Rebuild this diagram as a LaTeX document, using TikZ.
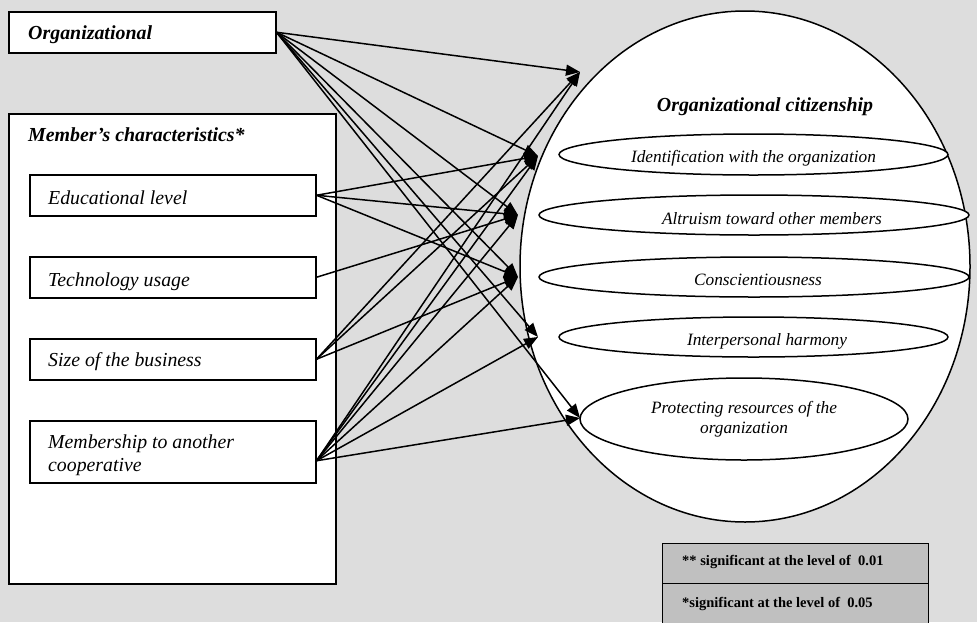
\documentclass[tikz,border=0pt]{standalone}
\usepackage{fontspec}
\setmainfont{Liberation Serif}
\usetikzlibrary{arrows.meta,shapes.geometric}
\definecolor{bgc}{RGB}{221,221,221}
\definecolor{legc}{RGB}{192,192,192}
\begin{document}
\begin{tikzpicture}[x=1pt,y=-1pt,
  boxstyle/.style={draw,fill=white,line width=1.5pt,anchor=north west,inner sep=0pt},
  ellstyle/.style={draw,fill=white,ellipse,line width=1.5pt,inner sep=0pt},
  titletext/.style={font=\fontsize{19.9}{23}\selectfont\bfseries\itshape,inner sep=0pt,anchor=base west},
  boxtext/.style={font=\fontsize{19.8}{23}\selectfont\itshape,inner sep=0pt,anchor=base west,align=left},
  elltext/.style={font=\fontsize{17.3}{20}\selectfont\itshape,inner sep=0pt,anchor=base,align=center},
  legtext/.style={font=\fontsize{14.5}{16}\selectfont\bfseries,inner sep=0pt,anchor=base west},
  conn/.style={line width=1.5pt,-{Triangle[length=14pt,width=11pt]}}
]
\fill[bgc] (0,0) rectangle (977,622);
\useasboundingbox (0,0) rectangle (977,622);

% left side
\node[boxstyle,minimum width=267pt,minimum height=41pt] (org) at (8,11) {};
\node[titletext] (orgt) at (28,39.5) {Organizational};

\node[boxstyle,minimum width=327pt,minimum height=470pt] (mem) at (8,113) {};
\node[titletext] (memt) at (28,141.5) {Member’s characteristics*};

\node[boxstyle,minimum width=286pt,minimum height=41pt] (edu) at (29,174) {};
\node[boxtext] (edut) at (48,204) {Educational level};
\node[boxstyle,minimum width=286pt,minimum height=41pt] (tec) at (29,256) {};
\node[boxtext] (tect) at (48,286) {Technology usage};
\node[boxstyle,minimum width=286pt,minimum height=41pt] (siz) at (29,338) {};
\node[boxtext] (sizt) at (48,366) {Size of the business};
\node[boxstyle,minimum width=286pt,minimum height=62pt] (mbr) at (29,420) {};
\node[boxtext] (mbrt) at (48,471) {Membership to another\\cooperative};

% right side
\node[ellstyle,minimum width=450pt,minimum height=511pt] (oc) at (745,266.5) {};
\node[titletext,anchor=base] (oct) at (765,111) {Organizational citizenship};

\node[ellstyle,minimum width=389pt,minimum height=41pt] (e1) at (753.5,154.5) {};
\node[elltext] (e1t) at (753.5,162.5) {Identification with the organization};
\node[ellstyle,minimum width=430pt,minimum height=40pt] (e2) at (754,215) {};
\node[elltext] (e2t) at (772,224.5) {Altruism toward other members};
\node[ellstyle,minimum width=430pt,minimum height=40pt] (e3) at (754,277) {};
\node[elltext] (e3t) at (758,285.5) {Conscientiousness};
\node[ellstyle,minimum width=389pt,minimum height=40pt] (e4) at (753.5,337) {};
\node[elltext] (e4t) at (767,345.5) {Interpersonal harmony};
\node[ellstyle,minimum width=328pt,minimum height=82pt] (e5) at (744,419) {};
\node[elltext] (e5t) at (744,433.5) {Protecting resources of the\\organization};

% arrow tips
\coordinate (t1) at (580,72);
\coordinate (t2) at (538,156);
\coordinate (t3) at (518,215);
\coordinate (t4) at (518,277);
\coordinate (t5) at (538,337);
\coordinate (t6) at (580,418);

% connectors
\foreach \t in {t1,t2,t3,t4,t5,t6} \draw[conn] (org.east) -- (\t);
\foreach \t in {t2,t3,t4} \draw[conn] (edu.east) -- (\t);
\draw[conn] (tec.east) -- (t3);
\foreach \t in {t1,t2,t4} \draw[conn] (siz.east) -- (\t);
\foreach \t in {t1,t2,t3,t4,t5,t6} \draw[conn] ([yshift=-9pt]mbr.east) -- (\t);

% legend
\node[draw,fill=legc,line width=1.3pt,anchor=north west,minimum width=266pt,minimum height=40pt,inner sep=0pt] (lg1) at (662,543) {};
\node[draw,fill=legc,line width=1.3pt,anchor=north west,minimum width=266pt,minimum height=40pt,inner sep=0pt] (lg2) at (662,583) {};
\node[legtext] (lg1t) at (682,565) {** significant at the level of~~0.01};
\node[legtext] (lg2t) at (682,607) {*significant at the level of~~0.05};
\end{tikzpicture}
\end{document}
